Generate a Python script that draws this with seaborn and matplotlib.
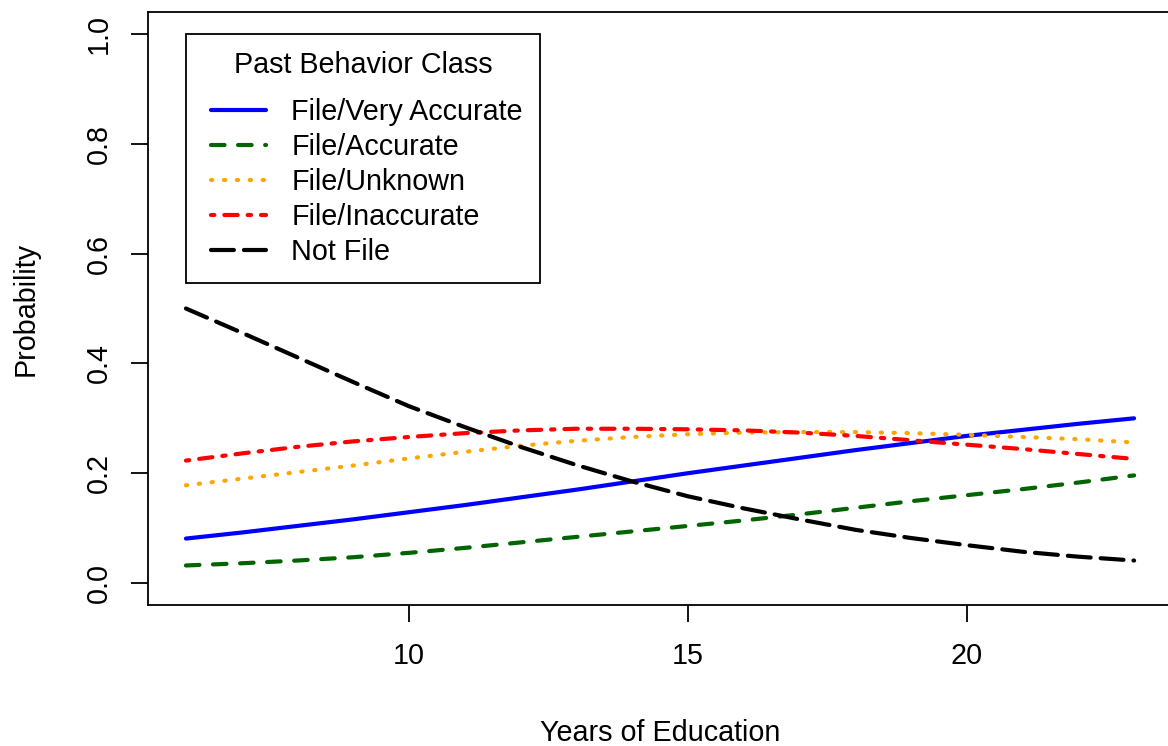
import numpy as np
import pandas as pd
import seaborn as sns
import matplotlib.pyplot as plt
from matplotlib.lines import Line2D
from matplotlib.legend_handler import HandlerLine2D
from matplotlib.ticker import FormatStrFormatter

# predicted probabilities
years = [6, 7, 8, 9, 10, 11, 12, 13, 14, 15, 16, 17, 18, 19, 20, 21, 22, 23]
very_accurate = [0.081, 0.092, 0.104, 0.116, 0.129, 0.142, 0.156, 0.170, 0.185,
                 0.200, 0.214, 0.228, 0.242, 0.255, 0.268, 0.279, 0.290, 0.300]
accurate = [0.032, 0.036, 0.041, 0.047, 0.055, 0.064, 0.074, 0.084, 0.094,
            0.104, 0.114, 0.125, 0.137, 0.149, 0.160, 0.171, 0.183, 0.196]
unknown = [0.178, 0.190, 0.202, 0.214, 0.227, 0.239, 0.250, 0.259, 0.266,
           0.271, 0.274, 0.275, 0.275, 0.273, 0.270, 0.266, 0.262, 0.256]
inaccurate = [0.223, 0.236, 0.248, 0.258, 0.266, 0.273, 0.278, 0.281, 0.281,
              0.280, 0.278, 0.274, 0.268, 0.260, 0.252, 0.244, 0.235, 0.226]
not_file = [0.500, 0.456, 0.411, 0.366, 0.322, 0.284, 0.248, 0.215, 0.185,
            0.158, 0.136, 0.116, 0.097, 0.082, 0.069, 0.057, 0.048, 0.041]

classes = ['File/Very Accurate', 'File/Accurate', 'File/Unknown',
           'File/Inaccurate', 'Not File']
series = [very_accurate, accurate, unknown, inaccurate, not_file]

df = pd.DataFrame({
    'Years': years * len(classes),
    'Probability': [v for s in series for v in s],
    'Class': [c for c in classes for _ in years],
})

colors = {'File/Very Accurate': '#0000FF', 'File/Accurate': '#006400',
          'File/Unknown': '#FFA500', 'File/Inaccurate': '#FF0000',
          'Not File': '#000000'}
dashes = {'File/Very Accurate': '', 'File/Accurate': (3.25, 3.25),
          'File/Unknown': (0.3, 2.8), 'File/Inaccurate': (0.8, 2.4, 3.2, 2.4),
          'Not File': (5.5, 2.4)}

sns.set_style('ticks')
plt.rcParams['font.family'] = ['Liberation Sans', 'DejaVu Sans']
for k in ['text.color', 'axes.labelcolor', 'xtick.color', 'ytick.color', 'axes.edgecolor']:
    plt.rcParams[k] = 'black'

FS = 20.7
LW = 3

fig = plt.figure(figsize=(11.68, 7.46), dpi=100)
ax = fig.add_axes([148 / 1168, 141 / 746, 1024 / 1168, 593 / 746])

sns.lineplot(data=df, x='Years', y='Probability', hue='Class', style='Class',
             hue_order=classes, style_order=classes, palette=colors,
             dashes=dashes, errorbar=None, legend=False, lw=LW,
             dash_capstyle='round', solid_capstyle='round', ax=ax)

ax.set_xlim(5.32, 23.68)
ax.set_ylim(-0.04, 1.04)
ax.set_xticks([10, 15, 20])
ax.set_yticks([0, 0.2, 0.4, 0.6, 0.8, 1.0])
ax.yaxis.set_major_formatter(FormatStrFormatter('%.1f'))
ax.tick_params(direction='out', length=12, width=1.3, labelsize=FS)
ax.tick_params(axis='x', pad=15)
ax.tick_params(axis='y', pad=13.5, labelrotation=90)
for t in ax.get_yticklabels():
    t.set_va('center')
for sp in ax.spines.values():
    sp.set_linewidth(1.3)
    sp.set_color('black')

ax.set_xlabel('Years of Education', fontsize=FS, labelpad=35)
ax.set_ylabel('Probability', fontsize=FS, labelpad=32.5)

handles = []
for c in classes:
    h = Line2D([], [], color=colors[c], lw=LW, dash_capstyle='round',
               solid_capstyle='round')
    if dashes[c]:
        h.set_dashes(dashes[c])
    handles.append(h)

leg = ax.legend(handles, classes, title='Past Behavior Class', loc='upper left',
                bbox_to_anchor=(6, 1.0), bbox_transform=ax.transData,
                borderaxespad=0, fontsize=FS, title_fontsize=FS,
                fancybox=False, framealpha=1, edgecolor='black',
                handlelength=2.2, handletextpad=0.86, labelspacing=0.24,
                borderpad=0.6, handler_map={Line2D: HandlerLine2D(xpad=0.28)})
leg.get_frame().set_linewidth(1.3)
leg._legend_box.sep = 13.5

fig.savefig('out.png', dpi=100)
